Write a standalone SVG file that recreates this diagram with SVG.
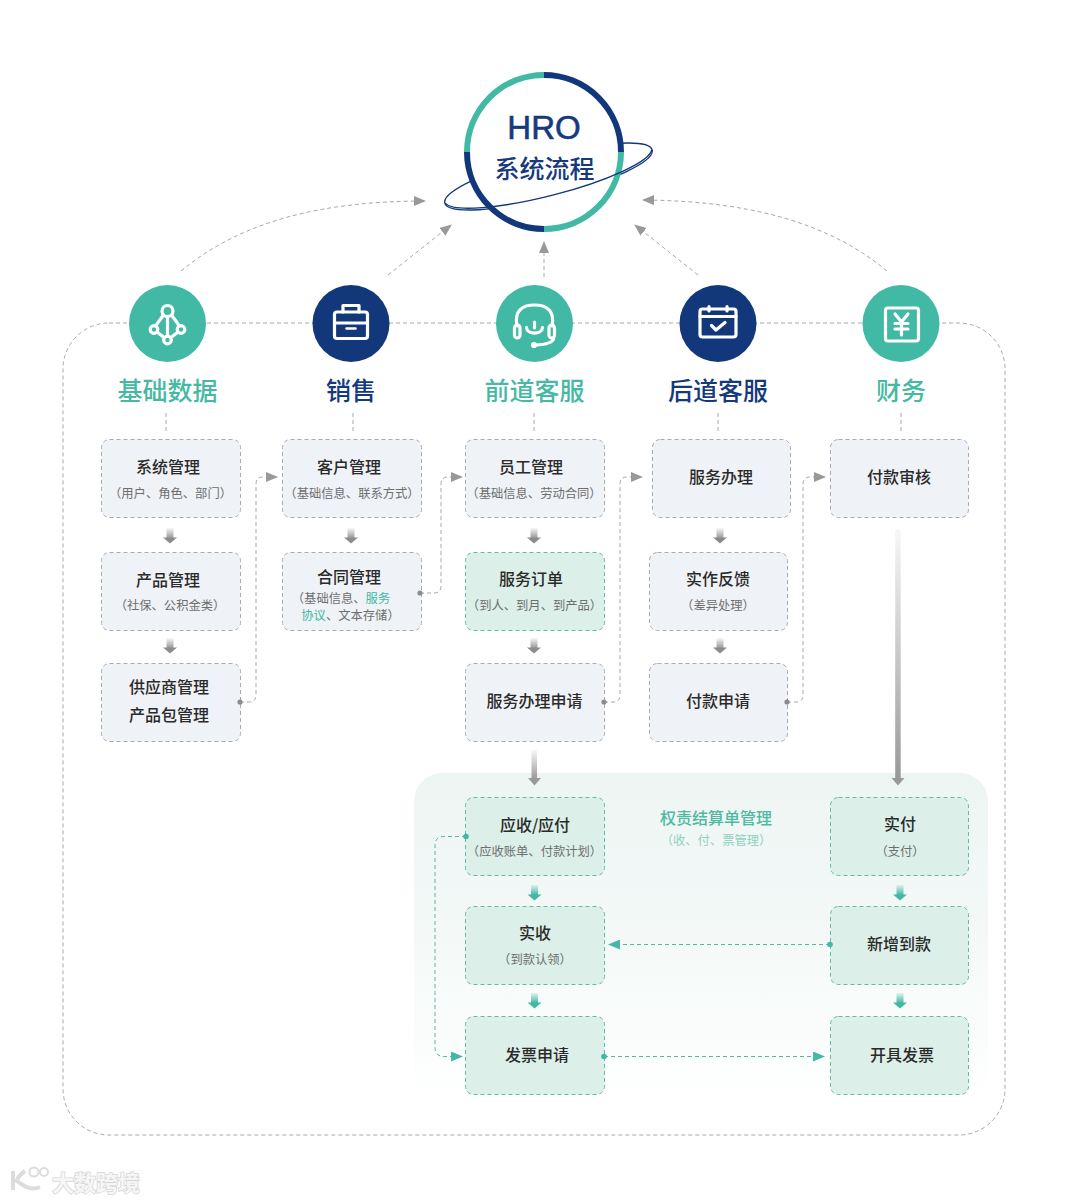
<svg xmlns="http://www.w3.org/2000/svg" width="1080" height="1202" viewBox="0 0 1080 1202">
<style>
text{font-family:"Noto Sans CJK SC","Noto Sans",sans-serif;text-anchor:middle}
.n{fill:#eff2f7;stroke:#a8abb0;stroke-width:1;stroke-dasharray:4 3}
.g{fill:#dcefe9;stroke:#5dbda8;stroke-width:1;stroke-dasharray:4 3}
.t{font-size:16px;font-weight:500;fill:#2a2a2a}
.s{font-size:12.3px;fill:#6e6e6e}
.h{font-size:25px;font-weight:500}
.hg{fill:#45b9a3}.hn{fill:#153a7c}
.d{fill:none;stroke:#a8a8a8;stroke-width:1;stroke-dasharray:4 3}
.dg{fill:none;stroke:#52baa4;stroke-width:1;stroke-dasharray:4 3}
.i{fill:none;stroke:#fff;stroke-width:3.2;stroke-linecap:round;stroke-linejoin:round}
.cg{fill:#41b9a4}.cn{fill:#12387b}
</style>
<defs>
<linearGradient id="pg" x1="0" y1="0" x2="0" y2="1"><stop offset="0" stop-color="#edf5f3"/><stop offset="0.5" stop-color="#f4f9f8"/><stop offset="1" stop-color="#fff"/></linearGradient>
<linearGradient id="sg" x1="0" y1="0" x2="0" y2="1"><stop offset="0" stop-color="#999" stop-opacity="0.08"/><stop offset="1" stop-color="#999"/></linearGradient>
<linearGradient id="sgg" x1="0" y1="0" x2="0" y2="1"><stop offset="0" stop-color="#41b9a4" stop-opacity="0.12"/><stop offset="1" stop-color="#41b9a4"/></linearGradient>
<marker id="ah" markerUnits="userSpaceOnUse" markerWidth="12" markerHeight="10" refX="11" refY="5" orient="auto"><path d="M0 0L12 5L0 10Z" fill="#999"/></marker>
<marker id="ahg" markerUnits="userSpaceOnUse" markerWidth="12" markerHeight="10" refX="11" refY="5" orient="auto"><path d="M0 0L12 5L0 10Z" fill="#41b9a4"/></marker>
<g id="da"><rect x="-3.5" y="-9" width="7" height="10" fill="url(#sg)"/><path d="M-7 0.5H7L0 6.5Z" fill="#8c8c8c"/></g>
<g id="dag"><rect x="-3.5" y="-9" width="7" height="10" fill="url(#sgg)"/><path d="M-7 0.5H7L0 6.5Z" fill="#41b9a4"/></g>
</defs>
<rect width="1080" height="1202" fill="#fff"/>

<g id="frame"><rect x="63" y="323" width="942" height="812" rx="46" class="d"/></g>
<g id="panel"><rect x="414" y="773" width="574" height="330" rx="28" fill="url(#pg)"/></g>

<g id="hub">
<ellipse cx="548.500" cy="176.500" rx="107" ry="21" transform="rotate(-14.400 548.500 176.500)" fill="none" stroke="#12387b" stroke-width="1.400"/>
<circle cx="544" cy="152" r="77" fill="#fff"/>
<g fill="none" stroke-width="6">
<path d="M467 152A77 77 0 0 1 544 75" stroke="#41b9a4"/>
<path d="M544 75A77 77 0 0 1 621 152" stroke="#12387b"/>
<path d="M621 152A77 77 0 0 1 544 229" stroke="#41b9a4"/>
<path d="M544 229A77 77 0 0 1 467 152" stroke="#12387b"/>
</g>
<path d="M445.300 203.100A107 21 -14.400 0 0 651.700 149.900" fill="none" stroke="#12387b" stroke-width="1.400"/>
<text x="544" y="138.500" style="font-family:'Liberation Sans',sans-serif;font-size:33px" fill="#163a7d" stroke="#163a7d" stroke-width="0.600">HRO</text>
<text x="544.500" y="178" style="font-size:25px;font-weight:500" fill="#163a7d">系统流程</text>
</g>

<g id="c1"><circle cx="167.500" cy="323.500" r="38.500" class="cg"/><g class="i"><circle cx="167.500" cy="311" r="5.500"/><circle cx="154" cy="329.500" r="3.800"/><circle cx="181" cy="329.500" r="3.800"/><circle cx="167.500" cy="340" r="3.800"/><path d="M167.500 317V336M163.500 315L155.500 326M171.500 315L179.500 326M157 332L164 337.500M178 332L171 337.500"/></g><text x="167.500" y="400" class="h hg">基础数据</text></g>
<g id="c2"><circle cx="351" cy="323.500" r="38.500" class="cn"/><g class="i"><rect x="334.500" y="312" width="33" height="26.500" rx="2.500"/><path d="M343 312V305.500H359V312M334.500 323H367.500"/><path d="M346.500 328.500H355.500" stroke-width="2.500"/></g><text x="351" y="400" class="h hn">销售</text></g>
<g id="c3"><circle cx="534.500" cy="323.500" r="38.500" class="cg"/><g class="i"><path d="M517 326C514 311 522 305 534.500 305C547 305 555 311 552 326"/><rect x="514.500" y="325" width="5.500" height="13" rx="2.700"/><rect x="549" y="325" width="5.500" height="13" rx="2.700"/><path d="M553.500 339C552 343 546 344.500 536 345"/><circle cx="534" cy="345" r="1.500"/><path d="M529.500 327.500C530 335 545 335 545.500 327.500" transform="translate(-3 0)"/><path d="M534.500 322V328" transform="translate(0 0)"/></g><text x="534.500" y="400" class="h hg">前道客服</text></g>
<g id="c4"><circle cx="718" cy="323.500" r="38.500" class="cn"/><g class="i"><rect x="700" y="309" width="36" height="28" rx="2.500"/><path d="M700 316.500H736M709 306.500V311M727 306.500V311M711.500 325.500L716 330L725 322.500"/></g><text x="718" y="400" class="h hn">后道客服</text></g>
<g id="c5"><circle cx="901" cy="323.500" r="38.500" class="cg"/><g class="i"><rect x="885.500" y="308" width="33" height="33" rx="2.500"/><path d="M895 314L901.500 322L908 314M901.500 322V335M895 323.500H908M895 329H908"/></g><text x="901" y="400" class="h hg">财务</text></g>

<g id="n1"><rect x="101.500" y="439.500" width="139" height="78" rx="8" class="n"/><text x="168" y="473" class="t">系统管理</text><text x="170.500" y="498" class="s">（用户、角色、部门）</text></g>
<g id="n2"><rect x="101.500" y="552.500" width="139" height="78" rx="8" class="n"/><text x="168" y="585.500" class="t">产品管理</text><text x="170" y="610" class="s">（社保、公积金类）</text></g>
<g id="n3"><rect x="101.500" y="663.500" width="139" height="78" rx="8" class="n"/><text x="169" y="693" class="t">供应商管理</text><text x="169" y="721" class="t">产品包管理</text></g>
<g id="n4"><rect x="282.500" y="439.500" width="139" height="78" rx="8" class="n"/><text x="349" y="473" class="t">客户管理</text><text x="352" y="498" class="s">（基础信息、联系方式）</text></g>
<g id="n5"><rect x="282.500" y="552.500" width="139" height="78" rx="8" class="n"/><text x="349" y="583" class="t">合同管理</text><text x="341" y="603" class="s">（基础信息、<tspan fill="#41b9a4">服务</tspan></text><text x="350.500" y="620" class="s"><tspan fill="#41b9a4">协议</tspan>、文本存储）</text></g>
<g id="n6"><rect x="465.500" y="439.500" width="139" height="78" rx="8" class="n"/><text x="531" y="473" class="t">员工管理</text><text x="534" y="498" class="s">（基础信息、劳动合同）</text></g>
<g id="n7"><rect x="465.500" y="552.500" width="139" height="78" rx="8" class="g"/><text x="531" y="585" class="t">服务订单</text><text x="534.500" y="610" class="s">（到人、到月、到产品）</text></g>
<g id="n8"><rect x="465.500" y="663.500" width="139" height="78" rx="8" class="n"/><text x="534.500" y="707" class="t">服务办理申请</text></g>
<g id="n9"><rect x="652.500" y="439.500" width="138" height="78" rx="8" class="n"/><text x="721" y="483" class="t">服务办理</text></g>
<g id="n10"><rect x="649.500" y="552.500" width="138" height="78" rx="8" class="n"/><text x="718" y="585" class="t">实作反馈</text><text x="718" y="610" class="s">（差异处理）</text></g>
<g id="n11"><rect x="649.500" y="663.500" width="138" height="78" rx="8" class="n"/><text x="718" y="707" class="t">付款申请</text></g>
<g id="n12"><rect x="830.500" y="439.500" width="138" height="78" rx="8" class="n"/><text x="899" y="483" class="t">付款审核</text></g>
<g id="n13"><rect x="465.500" y="797.500" width="139" height="78" rx="8" class="g"/><text x="535" y="830.500" class="t">应收/应付</text><text x="534.500" y="856" class="s">（应收账单、付款计划）</text></g>
<g id="n14"><rect x="465.500" y="906.500" width="139" height="78" rx="8" class="g"/><text x="535" y="939" class="t">实收</text><text x="535" y="964" class="s">（到款认领）</text></g>
<g id="n15"><rect x="465.500" y="1016.500" width="139" height="78" rx="8" class="g"/><text x="537" y="1060.500" class="t">发票申请</text></g>
<g id="n16"><rect x="830.500" y="797.500" width="138" height="78" rx="8" class="g"/><text x="900" y="830" class="t">实付</text><text x="900" y="856" class="s">（支付）</text></g>
<g id="n17"><rect x="830.500" y="906.500" width="138" height="78" rx="8" class="g"/><text x="899" y="949.500" class="t">新增到款</text></g>
<g id="n18"><rect x="830.500" y="1016.500" width="138" height="78" rx="8" class="g"/><text x="902" y="1060.500" class="t">开具发票</text></g>
<g id="panel-title"><text x="716" y="824" style="font-size:16px;font-weight:500" fill="#4fb9a3">权责结算单管理</text><text x="716" y="845" style="font-size:12.300px" fill="#8fd0c1">（收、付、票管理）</text></g>

<g id="connectors">
<path class="d" marker-end="url(#ah)" d="M181 271C240 222 320 201 425 201"/>
<path class="d" marker-end="url(#ah)" d="M388 275L451 225"/>
<path class="d" marker-end="url(#ah)" d="M544 277V242"/>
<path class="d" marker-end="url(#ah)" d="M698 275L635 225"/>
<path class="d" marker-end="url(#ah)" d="M887 271C828 222 748 201 643 200"/>
<path class="d" d="M166 413V432M353 413V432M534 413V432M718 413V432M901 413V432"/>
<path class="d" marker-end="url(#ah)" d="M240 702H249Q256 702 256 695V484Q256 477 263 477H277"/>
<path class="d" marker-end="url(#ah)" d="M420 593H434Q441 593 441 586V484Q441 477 448 477H462"/>
<path class="d" marker-end="url(#ah)" d="M604 702H613Q620 702 620 695V484Q620 477 627 477H642"/>
<path class="d" marker-end="url(#ah)" d="M787 702H796Q803 702 803 695V484Q803 477 810 477H825"/>
<circle cx="240" cy="702" r="2.600" fill="#8c8c8c"/><circle cx="420" cy="593" r="2.600" fill="#8c8c8c"/><circle cx="604" cy="702" r="2.600" fill="#8c8c8c"/><circle cx="787" cy="702" r="2.600" fill="#8c8c8c"/>
<path class="dg" marker-end="url(#ahg)" d="M466 836.500H444Q435 836.500 435 845.500V1047.500Q435 1056.500 444 1056.500H462"/>
<path class="dg" marker-end="url(#ahg)" d="M604 1056.500H824"/>
<path class="dg" marker-end="url(#ahg)" d="M830 944.500H609"/>
<circle cx="466" cy="836.500" r="2.800" fill="#41b9a4"/><circle cx="604" cy="1056.500" r="2.800" fill="#41b9a4"/><circle cx="830" cy="944.500" r="2.800" fill="#41b9a4"/>
<use href="#da" x="170" y="537"/><use href="#da" x="170" y="647"/><use href="#da" x="351" y="537"/><use href="#da" x="534" y="537"/><use href="#da" x="534" y="647"/><use href="#da" x="720" y="537"/><use href="#da" x="720" y="647"/>
<use href="#dag" x="534.500" y="894"/><use href="#dag" x="534.500" y="1002"/><use href="#dag" x="900" y="894"/><use href="#dag" x="900" y="1002"/>
<rect x="531.500" y="750" width="5.500" height="29" fill="url(#sg)"/><path d="M528 778H541L534.500 785.500Z" fill="#999"/>
<rect x="895.200" y="530" width="5.500" height="249" fill="url(#sg)"/><path d="M891.500 778H904.500L898 785.500Z" fill="#999"/>
</g>

<g id="watermark">
<path d="M13 1171V1190M25 1171C18 1176 17 1180 17 1181C24 1186 30 1191 40 1187" fill="none" stroke="#dcdcdc" stroke-width="4"/>
<circle cx="34" cy="1172" r="4.500" fill="#fff" stroke="#dcdcdc" stroke-width="2"/><circle cx="44" cy="1172" r="4" fill="#fff" stroke="#dcdcdc" stroke-width="2"/>
<text x="96" y="1190.500" style="font-size:22px;font-weight:700;paint-order:stroke" fill="#f6f6f6" stroke="#d6d6d6" stroke-width="1.500">大数跨境</text>
</g>
</svg>
